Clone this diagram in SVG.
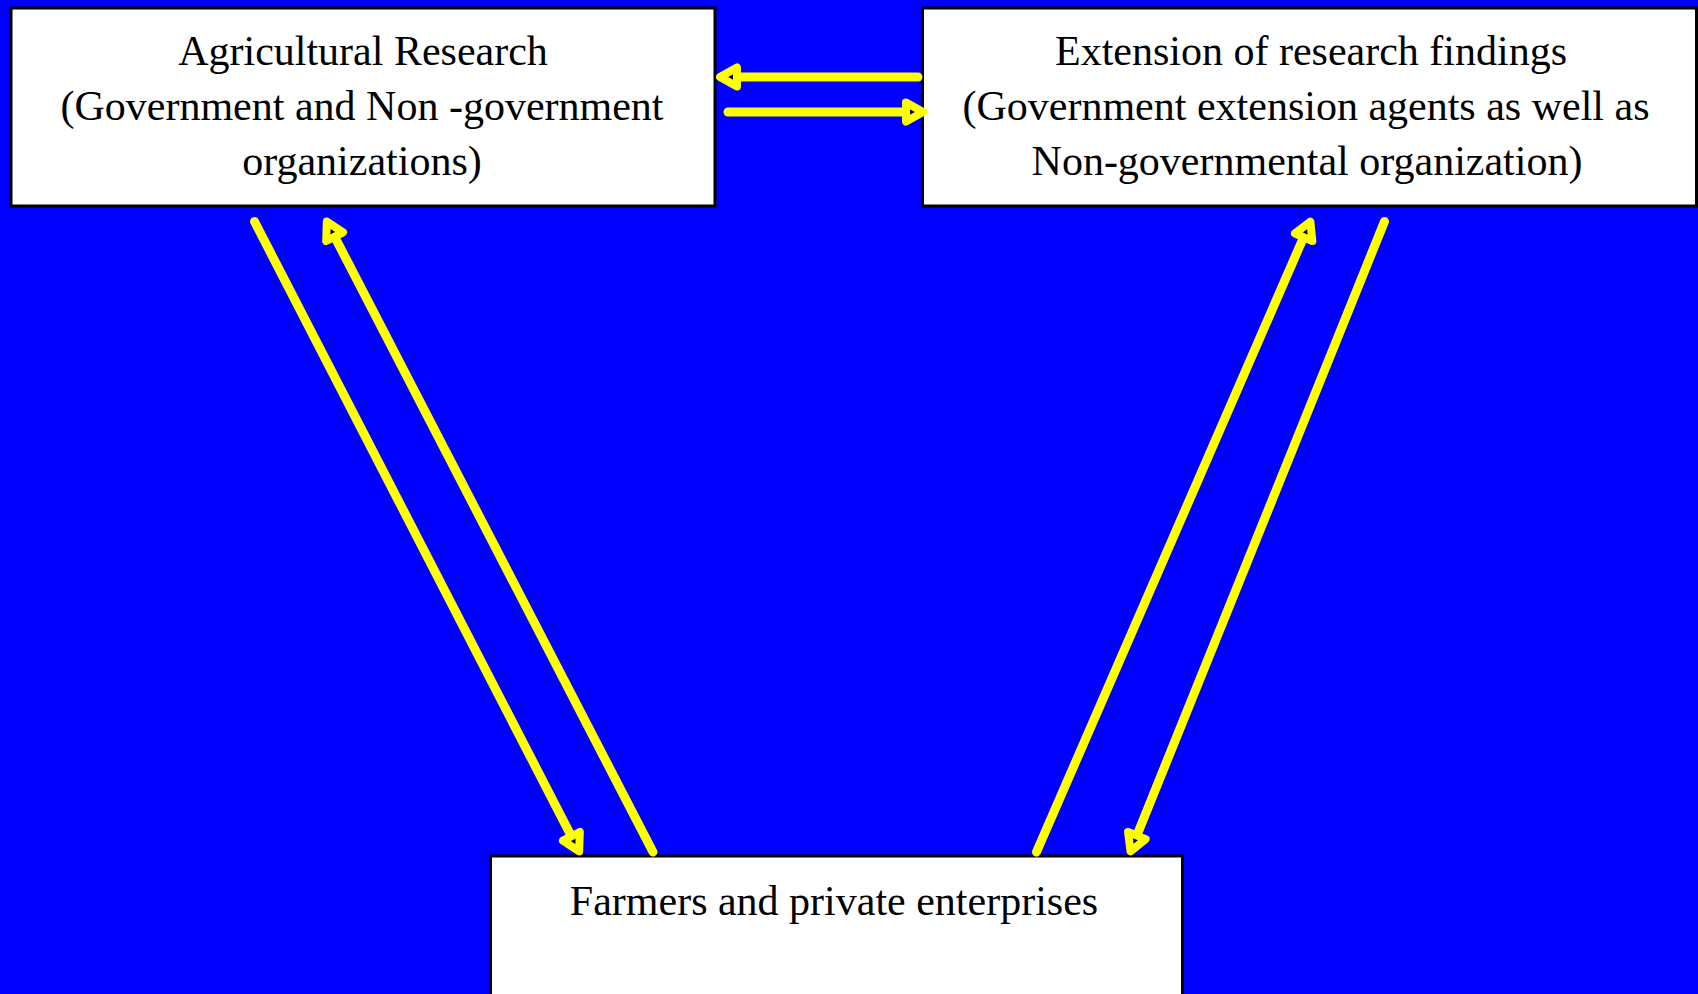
<svg xmlns="http://www.w3.org/2000/svg" width="1698" height="994" viewBox="0 0 1698 994">
<defs>
<style>
.box{fill:#ffffff;stroke:#000000;stroke-width:3}
.t{font-family:"Liberation Serif","Times New Roman",serif;font-size:42px;fill:#000000;text-anchor:middle}
.c{fill:none;stroke:#ffff00;stroke-width:9;stroke-linecap:round}
</style>
<marker id="ah" markerUnits="userSpaceOnUse" orient="auto" refX="0" refY="0" markerWidth="40" markerHeight="40" viewBox="-20 -20 40 40" overflow="visible">
<path d="M-9,-9.5 L8,0 L-9,9.5 Z" fill="#000000" stroke="#ffff00" stroke-width="8" stroke-linejoin="round"/>
</marker>
</defs>
<rect x="0" y="0" width="1698" height="994" fill="#0000ff"/>
<g id="node-research">
<rect class="box" x="11" y="8" width="704" height="198"/>
<text class="t" x="363" y="65">Agricultural Research</text>
<text class="t" x="362" y="120">(Government and Non -government</text>
<text class="t" x="362" y="175">organizations)</text>
</g>
<g id="node-extension">
<rect class="box" x="922.5" y="8" width="774" height="198"/>
<text class="t" x="1311" y="65">Extension of research findings</text>
<text class="t" x="1306" y="120">(Government extension agents as well as</text>
<text class="t" x="1307" y="175">Non-governmental organization)</text>
</g>
<g id="node-farmers">
<rect class="box" x="490.5" y="856" width="692" height="160"/>
<text class="t" x="834" y="915">Farmers and private enterprises</text>
</g>
<g id="connectors">
<line class="c" x1="918" y1="77" x2="728" y2="77" marker-end="url(#ah)"/>
<line class="c" x1="728" y1="112" x2="915" y2="112" marker-end="url(#ah)"/>
<line class="c" x1="254.5" y1="221.5" x2="575.5" y2="844.3" marker-end="url(#ah)"/>
<line class="c" x1="653" y1="852" x2="330.5" y2="228.7" marker-end="url(#ah)"/>
<line class="c" x1="1036.5" y1="852" x2="1307.2" y2="229" marker-end="url(#ah)"/>
<line class="c" x1="1384.5" y1="221.5" x2="1133.5" y2="843.9" marker-end="url(#ah)"/>
</g>
</svg>
